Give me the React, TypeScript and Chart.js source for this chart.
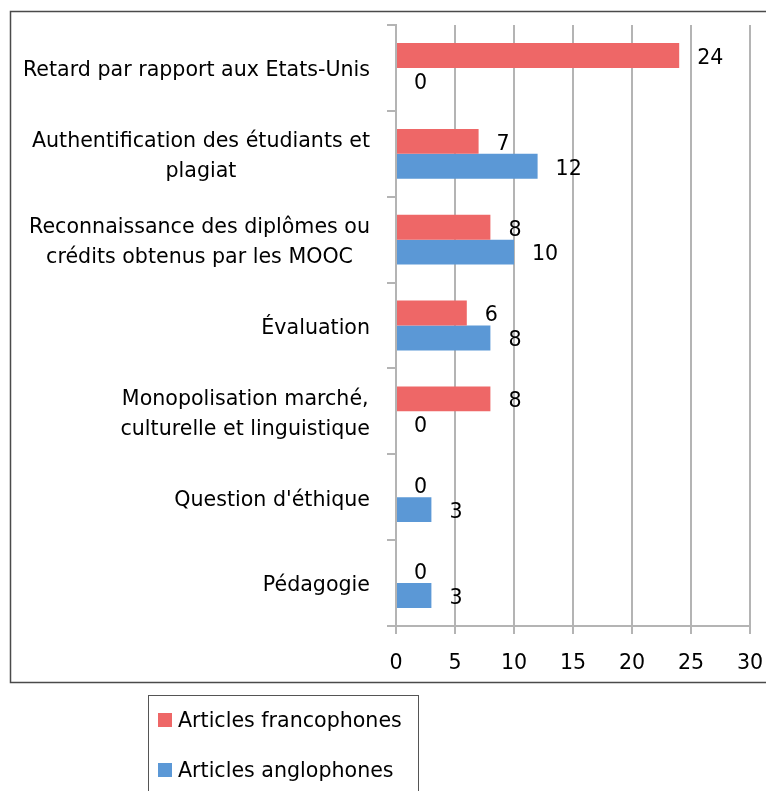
import React, { useEffect, useRef } from "react";
import { Chart, registerables } from "chart.js";
Chart.register(...registerables);

const categories: string[][] = [
  ["Retard par rapport aux Etats-Unis"],
  ["Authentification des étudiants et", "plagiat"],
  ["Reconnaissance des diplômes ou", "crédits obtenus par les MOOC"],
  ["Évaluation"],
  ["Monopolisation marché,", "culturelle et linguistique"],
  ["Question d'éthique"],
  ["Pédagogie"],
];
const francophones = [24, 7, 8, 6, 8, 0, 0];
const anglophones = [0, 12, 10, 8, 0, 3, 3];
const seriesNames = ["Articles francophones", "Articles anglophones"];
const xMin = 0;
const xMax = 30;
const xStep = 5;

const FONT = "'DejaVu Sans', sans-serif";
const FS = 20.6;
const RED = "#ee6767";
const BLUE = "#5b98d6";

export default function App() {
  const ref = useRef<HTMLCanvasElement>(null);
  useEffect(() => {
    const canvas = ref.current!;

    const decorPlugin = {
      id: "decor",
      beforeDraw(chart: any) {
        const ctx = chart.ctx;
        ctx.save();
        ctx.fillStyle = "#fff";
        ctx.fillRect(0, 0, chart.width, chart.height);
        ctx.restore();
      },
      afterDatasetsDraw(chart: any) {
        const ctx = chart.ctx;
        ctx.save();
        ctx.font = `${FS}px ${FONT}`;
        ctx.fillStyle = "#000";
        ctx.textAlign = "left";
        ctx.textBaseline = "middle";
        chart.data.datasets.forEach((ds: any, di: number) => {
          const meta = chart.getDatasetMeta(di);
          meta.data.forEach((el: any, i: number) => {
            ctx.fillText(String(ds.data[i]), el.x + 18, el.y + 3);
          });
        });
        ctx.restore();
      },
      afterDraw(chart: any) {
        const ctx = chart.ctx;
        const yScale = chart.scales.y;
        ctx.save();
        ctx.font = `${FS}px ${FONT}`;
        ctx.fillStyle = "#000";
        ctx.textAlign = "center";
        ctx.textBaseline = "middle";
        const right = 370;
        const lh = 30;
        (chart.data.labels as string[][]).forEach((lines, i) => {
          const cy = yScale.getPixelForValue(i) + 3;
          const w = Math.max(...lines.map((l) => ctx.measureText(l).width));
          const cx = right - w / 2;
          lines.forEach((l, k) => {
            ctx.fillText(l, cx, cy + (k - (lines.length - 1) / 2) * lh);
          });
        });
        // outer frame
        ctx.strokeStyle = "#4a4a4a";
        ctx.lineWidth = 1.5;
        ctx.strokeRect(10.5, 11.5, 790, 671);
        // legend box
        ctx.lineWidth = 1;
        ctx.strokeStyle = "#555";
        ctx.strokeRect(148.5, 695.5, 270, 140);
        chart.data.datasets.forEach((ds: any, i: number) => {
          const cy = 720 + i * 50;
          ctx.fillStyle = ds.backgroundColor;
          ctx.fillRect(158, cy - 7, 14, 14);
          ctx.fillStyle = "#000";
          ctx.textAlign = "left";
          ctx.fillText(ds.label, 178, cy + 2);
        });
        ctx.restore();
      },
    };

    const chart = new Chart(canvas, {
      type: "bar",
      data: {
        labels: categories as any,
        datasets: [
          { label: seriesNames[0], data: francophones, backgroundColor: RED, categoryPercentage: 0.58, barPercentage: 1 },
          { label: seriesNames[1], data: anglophones, backgroundColor: BLUE, categoryPercentage: 0.58, barPercentage: 1 },
        ],
      },
      options: {
        indexAxis: "y",
        animation: false,
        responsive: false,
        events: [],
        layout: { padding: { top: 25, right: 16, left: 0, bottom: 0 } },
        plugins: { legend: { display: false }, tooltip: { enabled: false }, title: { display: false } },
        scales: {
          x: {
            min: xMin,
            max: xMax,
            ticks: { stepSize: xStep, color: "#000", font: { family: FONT, size: FS }, padding: 17 },
            grid: { color: "#b4b4b4", lineWidth: 2, tickLength: 8, drawTicks: true },
            border: { color: "#b4b4b4", width: 2 },
            afterFit(scale: any) {
              scale.height = 165;
              scale.paddingLeft = 0;
              scale.paddingRight = 0;
            },
          },
          y: {
            ticks: { display: false },
            grid: { offset: true, drawOnChartArea: false, drawTicks: true, tickLength: 9, color: "#b4b4b4", lineWidth: 2 },
            border: { color: "#b4b4b4", width: 2 },
            afterFit(scale: any) {
              scale.width = 396;
              scale.paddingTop = 0;
              scale.paddingBottom = 0;
            },
          },
        },
      },
      plugins: [decorPlugin],
    });
    return () => chart.destroy();
  }, []);

  return (
    <div style={{ position: "absolute", left: 0, top: 0, width: 766, height: 791 }}>
      <canvas ref={ref} width={766} height={791} style={{ display: "block" }} />
    </div>
  );
}
